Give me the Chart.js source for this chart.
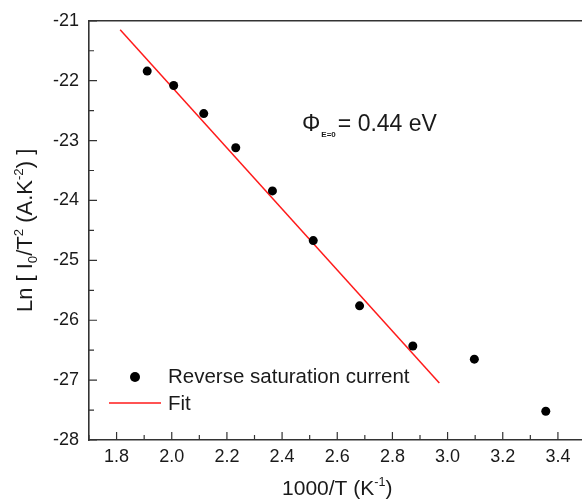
<!DOCTYPE html>
<html>
<head>
<meta charset="utf-8">
<script src="https://cdn.jsdelivr.net/npm/chart.js@4/dist/chart.umd.min.js"></script>
<style>
  html, body { margin: 0; padding: 0; background: #fff; overflow: hidden; }
  #wrap { position: absolute; left: 0; top: 0; width: 600px; height: 502px; }
</style>
</head>
<body>
<div id="wrap"><canvas id="arrhenius" width="600" height="502"></canvas></div>
<script>
// 測定点 (1000/T, Ln[I0/T^2])
const invTemp = [1.911, 2.007, 2.116, 2.232, 2.365, 2.513, 2.681, 2.874, 3.097, 3.356];
const lnCurrent = [-21.84, -22.08, -22.55, -23.12, -23.84, -24.67, -25.76, -26.43, -26.65, -27.52];

// 直線フィット（両端）
const fitX = [1.813, 2.970];
const fitY = [-21.15, -27.05];

// 目盛りラベル
const xTickLabels = [1.8, 2.0, 2.2, 2.4, 2.6, 2.8, 3.0, 3.2, 3.4];
const yTickLabels = [-28, -27, -26, -25, -24, -23, -22, -21];

const FONT = "'Liberation Sans', Arial, sans-serif";
const AXIS_COLOR = "#333333";
const TEXT_COLOR = "#1a1a1a";

function near(list, v) {
    return list.some(t => Math.abs(t - v) < 1e-6);
}

// 上付き・下付きを含む文字列を描く
// parts: [text, mode]  mode: 0=normal, 1=sup, -1=sub
function richWidth(ctx, parts, size) {
    let w = 0;
    parts.forEach(([t, m]) => {
        ctx.font = (m ? size * 0.6 : size) + "px " + FONT;
        w += ctx.measureText(t).width;
    });
    return w;
}
function drawRich(ctx, parts, x, y, size) {
    let cx = x;
    parts.forEach(([t, m]) => {
        const s = m ? size * 0.6 : size;
        ctx.font = s + "px " + FONT;
        const dy = m === 1 ? -size * 0.42 : (m === -1 ? size * 0.22 : 0);
        ctx.fillText(t, cx, y + dy);
        cx += ctx.measureText(t).width;
    });
}

const decorPlugin = {
    id: "decor",
    afterDraw(chart) {
        const ctx = chart.ctx;
        const area = chart.chartArea;
        const xs = chart.scales.x;
        const ys = chart.scales.y;

        ctx.save();
        // 枠（上辺・右辺）
        ctx.strokeStyle = AXIS_COLOR;
        ctx.lineWidth = 1.6;
        ctx.beginPath();
        ctx.moveTo(area.left, area.top);
        ctx.lineTo(area.right, area.top);
        ctx.lineTo(area.right, area.bottom);
        ctx.stroke();

        // 内向きの目盛り
        ctx.lineWidth = 1.2;
        ctx.beginPath();
        xs.ticks.forEach(t => {
            const px = xs.getPixelForValue(t.value);
            const len = near(xTickLabels, t.value) ? 8 : 5;
            ctx.moveTo(px, area.bottom);
            ctx.lineTo(px, area.bottom - len);
        });
        ys.ticks.forEach(t => {
            const py = ys.getPixelForValue(t.value);
            const len = near(yTickLabels, t.value) ? 8 : 5;
            ctx.moveTo(area.left, py);
            ctx.lineTo(area.left + len, py);
        });
        ctx.stroke();

        // 軸タイトル
        ctx.fillStyle = TEXT_COLOR;
        ctx.textBaseline = "alphabetic";
        ctx.textAlign = "left";
        const xt = [["1000/T (K", 0], ["-1", 1], [")", 0]];
        const xw = richWidth(ctx, xt, 21);
        drawRich(ctx, xt, (area.left + area.right) / 2 - xw / 2, 495, 21);

        const yt = [["Ln [ I", 0], ["0", -1], ["/T", 0], ["2", 1], [" (A.K", 0], ["-2", 1], [") ]", 0]];
        const yw = richWidth(ctx, yt, 22);
        ctx.save();
        ctx.translate(32, (area.top + area.bottom) / 2);
        ctx.rotate(-Math.PI / 2);
        drawRich(ctx, yt, -yw / 2, 0, 22);
        ctx.restore();

        // 注記 Φ(E=0) = 0.44 eV
        let ax = 302;
        const ay = 131;
        ctx.font = "23px " + FONT;
        ctx.fillText("Φ", ax, ay);
        ax += ctx.measureText("Φ").width + 1;
        ctx.font = "bold 8px " + FONT;
        ctx.fillText("E=0", ax, ay + 6);
        ax += ctx.measureText("E=0").width + 2;
        ctx.font = "23px " + FONT;
        ctx.fillText("= 0.44 eV", ax, ay);

        // 凡例
        const ds0 = chart.data.datasets[0];
        const ds1 = chart.data.datasets[1];
        ctx.fillStyle = ds0.backgroundColor;
        ctx.beginPath();
        ctx.arc(135, 377, ds0.pointRadius + 0.5, 0, Math.PI * 2);
        ctx.fill();
        ctx.strokeStyle = ds1.borderColor;
        ctx.lineWidth = ds1.borderWidth;
        ctx.beginPath();
        ctx.moveTo(109, 403);
        ctx.lineTo(161, 403);
        ctx.stroke();
        ctx.fillStyle = TEXT_COLOR;
        ctx.font = "20.5px " + FONT;
        ctx.textBaseline = "middle";
        ctx.fillText(ds0.label, 168, 377);
        ctx.fillText(ds1.label, 168, 404);
        ctx.restore();
    }
};

document.addEventListener("DOMContentLoaded", function () {
    const canvas = document.getElementById("arrhenius");
    const ctx = canvas.getContext("2d");

    new Chart(ctx, {
        type: "scatter",
        data: {
            datasets: [{
                label: "Reverse saturation current",
                data: invTemp.map((x, i) => ({ x: x, y: lnCurrent[i] })),
                backgroundColor: "#000000",
                borderColor: "#000000",
                pointRadius: 4.5,
                pointBorderWidth: 0
            }, {
                label: "Fit",
                data: fitX.map((x, i) => ({ x: x, y: fitY[i] })),
                showLine: true,
                borderColor: "#ff1a1a",
                borderWidth: 1.5,
                pointRadius: 0,
                fill: false
            }]
        },
        options: {
            responsive: false,
            animation: false,
            events: [],
            layout: { padding: { top: 17.5, right: 14.5, left: 0, bottom: 0 } },
            plugins: {
                legend: { display: false },
                tooltip: { enabled: false }
            },
            scales: {
                x: {
                    type: "linear",
                    min: 1.7,
                    max: 3.5,
                    afterFit: s => { s.height = 62; },
                    afterBuildTicks: s => {
                        const t = [];
                        for (let i = 17; i <= 35; i++) t.push({ value: i / 10 });
                        s.ticks = t;
                    },
                    grid: { display: false, drawTicks: false },
                    border: { display: true, color: AXIS_COLOR, width: 1.6 },
                    ticks: {
                        autoSkip: false,
                        maxRotation: 0,
                        padding: 6,
                        color: TEXT_COLOR,
                        font: { family: FONT, size: 18 },
                        callback: v => near(xTickLabels, v) ? v.toFixed(1) : ""
                    }
                },
                y: {
                    type: "linear",
                    min: -28,
                    max: -21,
                    afterFit: s => { s.width = 89; },
                    afterBuildTicks: s => {
                        const t = [];
                        for (let i = -56; i <= -42; i++) t.push({ value: i / 2 });
                        s.ticks = t;
                    },
                    grid: { display: false, drawTicks: false },
                    border: { display: true, color: AXIS_COLOR, width: 1.6 },
                    ticks: {
                        autoSkip: false,
                        padding: 10,
                        color: TEXT_COLOR,
                        font: { family: FONT, size: 18 },
                        callback: v => near(yTickLabels, v) ? String(v) : ""
                    }
                }
            }
        },
        plugins: [decorPlugin]
    });
});
</script>
</body>
</html>
